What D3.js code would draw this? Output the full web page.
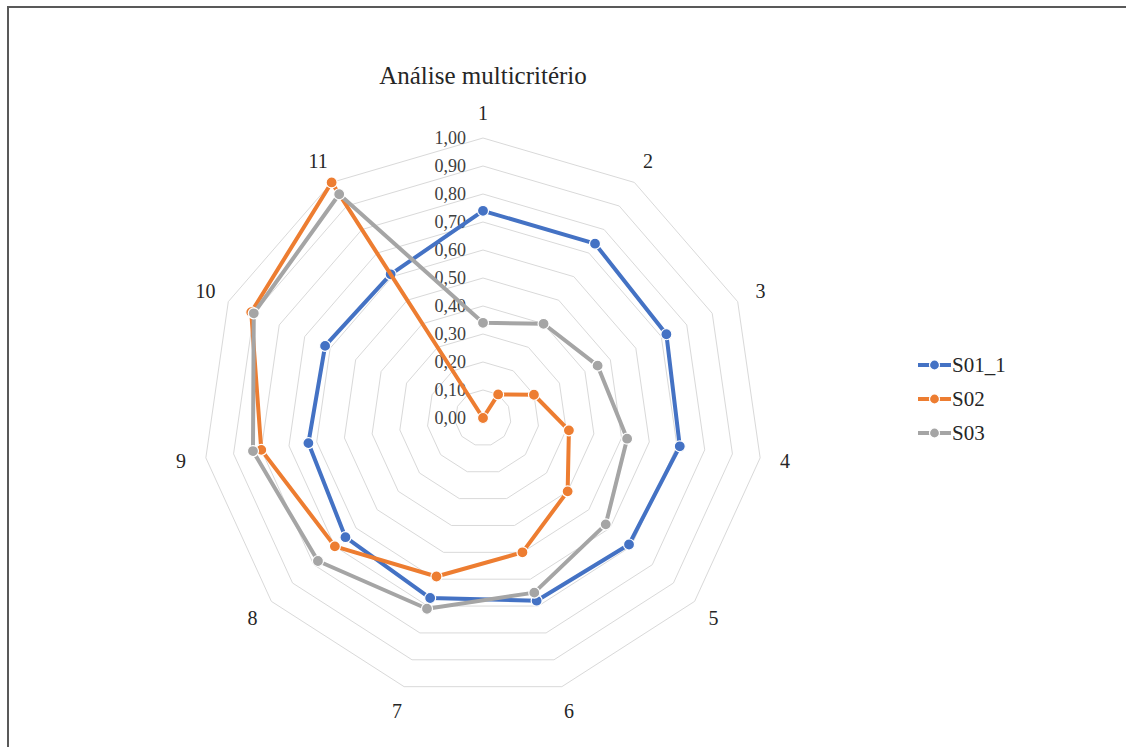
<!DOCTYPE html>
<html>
<head>
<meta charset="utf-8">
<script src="https://cdn.jsdelivr.net/npm/d3@7"></script>
<style>
  html, body { margin: 0; padding: 0; background: #fff; }
  svg { display: block; }
</style>
</head>
<body>
<svg id="chart" width="1126" height="747"></svg>
<script>
// Criteria (radar axes) and per-scenario scores
const criteria = ["1", "2", "3", "4", "5", "6", "7", "8", "9", "10", "11"];
const seriesNames = ["S01_1", "S02", "S03"];
const s01_1 = [0.74, 0.74, 0.72, 0.71, 0.69, 0.68, 0.67, 0.65, 0.63, 0.62, 0.61];
const s02   = [0.00, 0.10, 0.20, 0.31, 0.40, 0.50, 0.59, 0.70, 0.80, 0.91, 1.00];
const s03   = [0.34, 0.40, 0.45, 0.52, 0.58, 0.65, 0.71, 0.78, 0.83, 0.90, 0.95];
const seriesColors = ["#4472c4", "#ed7d31", "#a5a5a5"];
const tickValues = [0, 0.1, 0.2, 0.3, 0.4, 0.5, 0.6, 0.7, 0.8, 0.9, 1.0];
const chartTitle = "Análise multicritério";

const series = [s01_1, s02, s03].map((values, i) => ({
  name: seriesNames[i], values, color: seriesColors[i]
}));

const FONT = '"Liberation Serif", "Times New Roman", serif';
const svg = d3.select("#chart");
const cx = 483, cy = 418, R = 280;

// Outer frame
svg.append("rect")
  .attr("x", 8).attr("y", 7)
  .attr("width", 1140).attr("height", 760)
  .attr("fill", "none").attr("stroke", "#595959").attr("stroke-width", 2);

const angle = d3.scalePoint().domain(criteria)
  .range([0, 2 * Math.PI * (criteria.length - 1) / criteria.length]);
const r = d3.scaleLinear().domain([0, 1]).range([0, R]);

const g = svg.append("g").attr("transform", `translate(${cx},${cy})`);

// Polygonal grid rings
tickValues.filter(t => t > 0).forEach(t => {
  const ring = d3.lineRadial().curve(d3.curveLinearClosed)
    .angle(c => angle(c)).radius(() => r(t));
  g.append("path")
    .attr("d", ring(criteria))
    .attr("fill", "none")
    .attr("stroke", "#d9d9d9")
    .attr("stroke-width", 1);
});

// Category labels
criteria.forEach(c => {
  const a = angle(c);
  const lr = R + 25;
  g.append("text")
    .attr("x", lr * Math.sin(a))
    .attr("y", -lr * Math.cos(a))
    .attr("text-anchor", "middle")
    .attr("dominant-baseline", "central")
    .style("font-family", FONT)
    .style("font-size", "20px")
    .attr("fill", "#262626")
    .text(c);
});

// Value scale labels
tickValues.forEach(t => {
  g.append("text")
    .attr("x", -17)
    .attr("y", -r(t))
    .attr("text-anchor", "end")
    .attr("dominant-baseline", "central")
    .style("font-family", FONT)
    .style("font-size", "18px")
    .attr("fill", "#404040")
    .text(d3.format(".2f")(t).replace(".", ","));
});

// Series lines (closed loops) and markers
const line = d3.lineRadial().curve(d3.curveLinearClosed)
  .angle((d, i) => angle(criteria[i]))
  .radius(d => r(d));

series.forEach(s => {
  g.append("path")
    .attr("d", line(s.values))
    .attr("fill", "none")
    .attr("stroke", s.color)
    .attr("stroke-width", 4)
    .attr("stroke-linejoin", "round");
  g.selectAll(null).data(s.values).enter().append("circle")
    .attr("cx", (d, i) => r(d) * Math.sin(angle(criteria[i])))
    .attr("cy", (d, i) => -r(d) * Math.cos(angle(criteria[i])))
    .attr("r", 5.5)
    .attr("fill", s.color)
    .attr("stroke", "#fff")
    .attr("stroke-width", 1.2);
});

// Title
svg.append("text")
  .attr("x", cx).attr("y", 75)
  .attr("text-anchor", "middle")
  .attr("dominant-baseline", "central")
  .style("font-family", FONT)
  .style("font-size", "25px")
  .attr("fill", "#262626")
  .text(chartTitle);

// Legend
const legend = svg.append("g").attr("transform", "translate(918,365)");
series.forEach((s, i) => {
  const row = legend.append("g").attr("transform", `translate(0,${i * 34})`);
  row.append("line").attr("x1", 0).attr("x2", 33).attr("y1", 0).attr("y2", 0)
    .attr("stroke", s.color).attr("stroke-width", 4);
  row.append("circle").attr("cx", 16.5).attr("cy", 0).attr("r", 5)
    .attr("fill", s.color).attr("stroke", "#fff").attr("stroke-width", 1.2);
  row.append("text").attr("x", 34).attr("y", 0)
    .attr("dominant-baseline", "central")
    .style("font-family", FONT)
    .style("font-size", "21px")
    .attr("fill", "#262626")
    .text(s.name);
});
</script>
</body>
</html>
